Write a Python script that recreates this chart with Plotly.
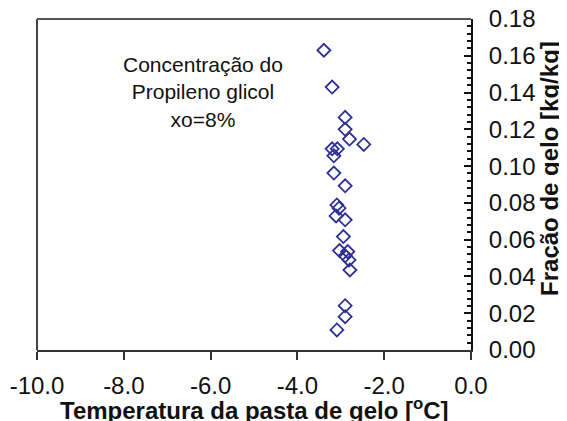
import plotly.graph_objects as go

# Data
temperatura = [-3.39, -3.20, -2.90, -2.90, -2.80, -2.47, -3.20, -3.08, -3.16, -3.16,
               -2.90, -3.09, -3.04, -3.11, -2.90, -2.94, -3.03, -2.84, -2.90, -2.81,
               -2.79, -2.90, -2.90, -3.09]
fracao_gelo = [0.163, 0.143, 0.1265, 0.120, 0.1147, 0.1118, 0.1094, 0.1094, 0.1056, 0.0962,
               0.0893, 0.0789, 0.0771, 0.0729, 0.0708, 0.0617, 0.0541, 0.0535, 0.0512, 0.0490,
               0.0435, 0.0241, 0.0181, 0.0109]

x_tick_vals = [-10, -8, -6, -4, -2, 0]
x_tick_labels = ["-10.0", "-8.0", "-6.0", "-4.0", "-2.0", "0.0"]
y_tick_vals = [0.00, 0.02, 0.04, 0.06, 0.08, 0.10, 0.12, 0.14, 0.16, 0.18]
y_tick_labels = ["0.00", "0.02", "0.04", "0.06", "0.08", "0.10", "0.12", "0.14", "0.16", "0.18"]

x_title = "Temperatura da pasta de gelo [<sup>o</sup>C]"
y_title = "Fração de gelo [kg/kg]"
note = "Concentração do<br>Propileno glicol<br>xo=8%"

FONT = "Liberation Sans, Arial, sans-serif"

fig = go.Figure()
fig.add_trace(go.Scatter(
    x=temperatura, y=fracao_gelo, mode="markers",
    marker=dict(symbol="diamond-open", size=10, color="#2E3192",
                line=dict(width=1.8, color="#2E3192")),
    showlegend=False,
))

# The page body adds an 8 px offset, so the figure is 8 px smaller and shifted.
fig.update_layout(
    template="none",
    width=559, height=413, autosize=False,
    margin=dict(l=29, r=96, t=11, b=71, pad=0),
    paper_bgcolor="white", plot_bgcolor="white",
    font=dict(family=FONT, color="#111111"),
    xaxis=dict(
        range=[-10, 0], tickmode="array", tickvals=x_tick_vals, ticktext=x_tick_labels,
        showgrid=False, zeroline=False, automargin=False,
        showline=True, linecolor="#333333", linewidth=2,
        ticks="outside", ticklen=8, tickwidth=2, tickcolor="#333333",
        tickfont=dict(size=24, family=FONT, color="#111111"),
        ticklabelstandoff=5, ticklabeloverflow="allow",
    ),
    yaxis=dict(
        range=[0, 0.18], tickmode="array", tickvals=y_tick_vals, ticktext=y_tick_labels,
        side="right", showgrid=False, zeroline=False, automargin=False,
        showline=True, linecolor="#111111", linewidth=2,
        ticks="inside", ticklen=7, tickwidth=2, tickcolor="#111111",
        minor=dict(dtick=0.004, tick0=0, ticks="inside", ticklen=4, tickwidth=1.5,
                   tickcolor="#111111", showgrid=False),
        tickfont=dict(size=24, family=FONT, color="#111111"),
        ticklabelstandoff=11, ticklabeloverflow="allow",
    ),
    shapes=[
        dict(type="line", xref="paper", yref="paper", x0=0, x1=0, y0=0, y1=1,
             line=dict(color="#444444", width=2)),
        dict(type="line", xref="paper", yref="paper", x0=0, x1=1, y0=1, y1=1,
             line=dict(color="#555555", width=2)),
    ],
    annotations=[
        dict(text=note, xref="paper", yref="paper", x=0.382, y=0.779,
             xanchor="center", yanchor="middle", showarrow=False, align="center",
             font=dict(size=21, family=FONT, color="#111111")),
        dict(text="<b>" + x_title + "</b>", xref="paper", yref="paper",
             x=0.5, y=-0.178, xanchor="center", yanchor="middle", showarrow=False,
             font=dict(size=24, family=FONT, color="#111111")),
        dict(text="<b>" + y_title + "</b>", xref="paper", yref="paper",
             x=1.182, y=0.55, xanchor="center", yanchor="middle", showarrow=False,
             textangle=-90, font=dict(size=24, family=FONT, color="#111111")),
    ],
)

fig.write_html("out.html")
